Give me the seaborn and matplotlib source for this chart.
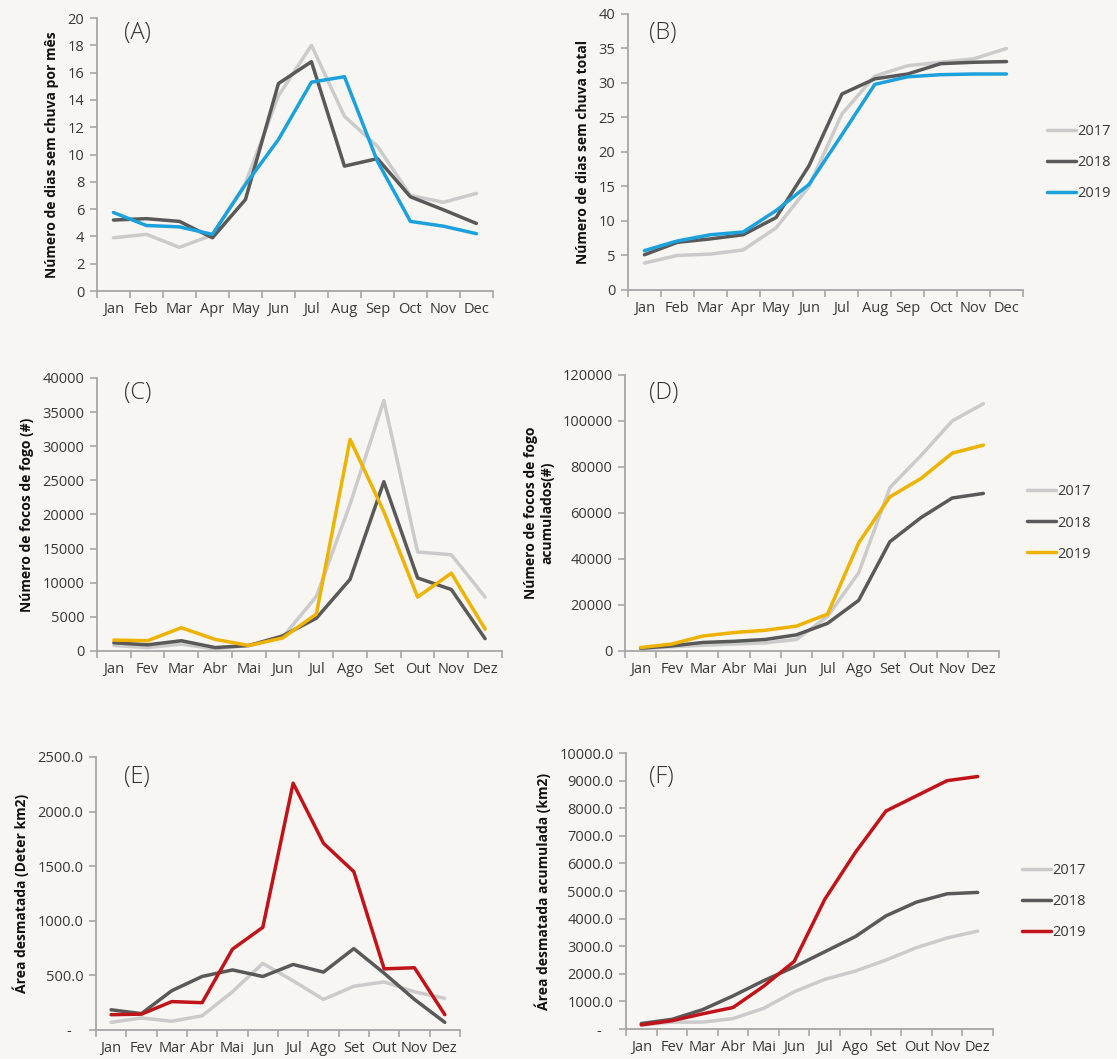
import numpy as np
import pandas as pd
import matplotlib
matplotlib.use("Agg")
import matplotlib.pyplot as plt
import seaborn as sns

# ---------------- data ----------------
years = ["2017", "2018", "2019"]
months_en = ["Jan", "Feb", "Mar", "Apr", "May", "Jun", "Jul", "Aug", "Sep", "Oct", "Nov", "Dec"]
months_pt = ["Jan", "Fev", "Mar", "Abr", "Mai", "Jun", "Jul", "Ago", "Set", "Out", "Nov", "Dez"]

# (A) dias sem chuva por mês
dry_2017 = [3.9, 4.15, 3.2, 4.1, 7.9, 14.3, 18.0, 12.8, 10.6, 7.0, 6.5, 7.15]
dry_2018 = [5.2, 5.3, 5.1, 3.9, 6.7, 15.2, 16.8, 9.15, 9.7, 6.9, 5.95, 4.95]
dry_2019 = [5.75, 4.8, 4.7, 4.15, 7.8, 11.1, 15.3, 15.7, 9.5, 5.1, 4.75, 4.2]

# (B) dias sem chuva total
drytot_2017 = [3.9, 5.0, 5.2, 5.8, 9.0, 15.0, 25.5, 31.0, 32.5, 33.0, 33.5, 35.0]
drytot_2018 = [5.1, 6.9, 7.4, 8.0, 10.5, 18.0, 28.4, 30.6, 31.3, 32.8, 33.0, 33.1]
drytot_2019 = [5.7, 7.1, 8.0, 8.4, 11.5, 15.3, 22.5, 29.8, 30.9, 31.2, 31.3, 31.3]

# (C) focos de fogo
fire_2017 = [800, 500, 1000, 300, 800, 2000, 8000, 21500, 36700, 14500, 14100, 7900]
fire_2018 = [1200, 900, 1500, 500, 800, 2200, 4800, 10500, 24800, 10700, 9000, 1800]
fire_2019 = [1600, 1500, 3400, 1700, 800, 1900, 5400, 31000, 20400, 7900, 11400, 3200]

# (D) focos de fogo acumulados
firecum_2017 = [1000, 1800, 2500, 3000, 3500, 5000, 15000, 34000, 71000, 85000, 100000, 107500]
firecum_2018 = [1200, 2200, 3700, 4200, 5000, 7000, 12000, 22000, 47500, 58000, 66500, 68500]
firecum_2019 = [1500, 3000, 6500, 8000, 9000, 10800, 16000, 47000, 67000, 75000, 86000, 89500]

# (E) área desmatada (Deter km2)
defor_2017 = [70, 110, 80, 130, 350, 610, 450, 280, 400, 440, 350, 290]
defor_2018 = [185, 150, 360, 490, 550, 490, 600, 530, 745, 520, 280, 70]
defor_2019 = [140, 145, 260, 250, 740, 940, 2260, 1710, 1450, 560, 570, 140]

# (F) área desmatada acumulada (km2)
deforcum_2017 = [150, 250, 250, 380, 750, 1350, 1800, 2100, 2500, 2950, 3300, 3550]
deforcum_2018 = [200, 350, 700, 1200, 1750, 2250, 2800, 3350, 4100, 4600, 4900, 4950]
deforcum_2019 = [150, 300, 550, 780, 1550, 2450, 4700, 6400, 7900, 8450, 9000, 9150]

# ---------------- style ----------------
BG = "#f8f6f2"
GREY17 = "#cbcbcb"
GREY18 = "#595959"
BLUE = "#1ba1db"
YELLOW = "#eeb200"
RED = "#c0141a"
TICKC = "#383838"
SPINE = "#a6a6a6"

sns.set_theme(style="ticks")
plt.rcParams["font.family"] = ["Open Sans", "DejaVu Sans"]
plt.rcParams["axes.facecolor"] = BG
plt.rcParams["figure.facecolor"] = BG

fig = plt.figure(figsize=(11.17, 10.59), dpi=100)


def long_df(series):
    rows = []
    for yr, vals in zip(years, series):
        for i, v in enumerate(vals):
            rows.append({"m": i, "v": v, "Ano": yr})
    return pd.DataFrame(rows)


def panel(rect, series, colors, months, ylim, yticks, ylabel, letter, letter_pos,
          fmt=None, legend_pos=None):
    ax = fig.add_axes(rect)
    df = long_df(series)
    sns.lineplot(data=df, x="m", y="v", hue="Ano", palette=dict(zip(years, colors)),
                 ax=ax, linewidth=2.5, legend=False, sort=False)
    ax.set_facecolor(BG)
    ax.set_xlim(-0.5, 11.5)
    ax.set_ylim(*ylim)
    ax.set_yticks(yticks)
    if fmt is not None:
        ax.set_yticklabels([fmt(v) for v in yticks])
    ax.set_xticks(np.arange(-0.5, 12.0, 1.0))
    ax.set_xticklabels([])
    ax.set_xticks(np.arange(12), minor=True)
    ax.set_xticklabels(months, minor=True)
    ax.tick_params(axis="x", which="major", length=5, width=1.2, color=SPINE, direction="out")
    ax.tick_params(axis="x", which="minor", length=0, pad=8, labelsize=10.5, labelcolor=TICKC)
    ax.tick_params(axis="y", length=5, width=1.2, color=SPINE, direction="out",
                   labelsize=10.5, labelcolor=TICKC, pad=4)
    for s in ["top", "right"]:
        ax.spines[s].set_visible(False)
    for s in ["left", "bottom"]:
        ax.spines[s].set_color(SPINE)
        ax.spines[s].set_linewidth(1.3)
    ax.set_xlabel("")
    ax.set_ylabel(ylabel, fontsize=10, fontweight="bold", color="#111111", labelpad=6)
    ax.text(letter_pos[0], letter_pos[1], letter, transform=ax.transAxes,
            fontsize=17, fontweight="light", color="#333333", ha="left", va="center")
    if legend_pos is not None:
        leg = fig.legend(ax.lines[:3], years, loc="center left",
                         bbox_to_anchor=legend_pos, bbox_transform=fig.transFigure,
                         frameon=False, fontsize=10.5, handlelength=2.0,
                         handletextpad=0.1, labelspacing=1.1, borderpad=0,
                         borderaxespad=0)
        for t in leg.get_texts():
            t.set_color(TICKC)
    return ax


dec = lambda v: "-   " if v == 0 else f"{v:.1f}"

panel([0.0868, 0.7252, 0.3545, 0.2578], [dry_2017, dry_2018, dry_2019],
      [GREY17, GREY18, BLUE], months_en, (0, 20), np.arange(0, 21, 2),
      "Número de dias sem chuva por mês", "(A)", (0.068, 0.945))

panel([0.5622, 0.7262, 0.3536, 0.2606], [drytot_2017, drytot_2018, drytot_2019],
      [GREY17, GREY18, BLUE], months_en, (0, 40), np.arange(0, 41, 5),
      "Número de dias sem chuva total", "(B)", (0.053, 0.931),
      legend_pos=(0.937, 0.8466))

panel([0.0868, 0.3853, 0.3626, 0.2578], [fire_2017, fire_2018, fire_2019],
      [GREY17, GREY18, YELLOW], months_pt, (0, 40000), np.arange(0, 40001, 5000),
      "Número de focos de fogo (#)", "(C)", (0.067, 0.945))

panel([0.5595, 0.3853, 0.3348, 0.2606], [firecum_2017, firecum_2018, firecum_2019],
      [GREY17, GREY18, YELLOW], months_pt, (0, 120000), np.arange(0, 120001, 20000),
      "Número de focos de fogo\nacumulados(#)", "(D)", (0.064, 0.935),
      legend_pos=(0.9194, 0.5061))

panel([0.0859, 0.0274, 0.3259, 0.2578], [defor_2017, defor_2018, defor_2019],
      [GREY17, GREY18, RED], months_pt, (0, 2500), np.arange(0, 2501, 500),
      "Área desmatada (Deter km2)", "(E)", (0.077, 0.927), fmt=dec)

panel([0.5604, 0.0283, 0.3286, 0.2606], [deforcum_2017, deforcum_2018, deforcum_2019],
      [GREY17, GREY18, RED], months_pt, (0, 10000), np.arange(0, 10001, 1000),
      "Área desmatada acumulada (km2)", "(F)", (0.063, 0.913), fmt=dec,
      legend_pos=(0.915, 0.1487))

fig.savefig("out.png", dpi=100, facecolor=BG)
